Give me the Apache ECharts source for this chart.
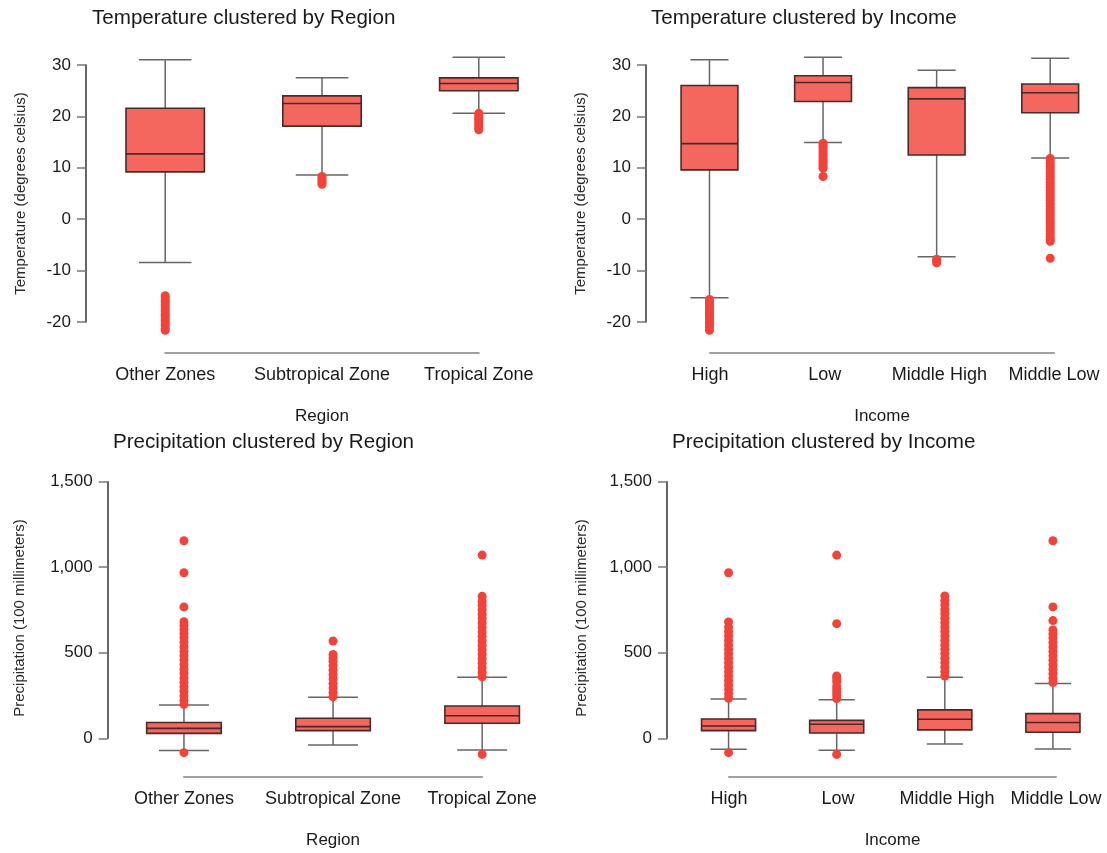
<!DOCTYPE html>
<html>
<head>
<meta charset="utf-8">
<script src="https://cdn.jsdelivr.net/npm/echarts@6/dist/echarts.min.js"></script>
<style>
html,body{margin:0;padding:0;background:#fff;}
#chart{width:1107px;height:853px;}
</style>
</head>
<body>
<div id="chart"></div>
<script>
// ---------------- DATA ----------------
const regionCats = ['Other Zones', 'Subtropical Zone', 'Tropical Zone'];
const incomeCats = ['High', 'Low', 'Middle High', 'Middle Low'];

const tempTicks = [-20, -10, 0, 10, 20, 30];
const precipTicks = [0, 500, 1000, 1500];

// box stats: [lower whisker, Q1, median, Q3, upper whisker]
const tempRegionBox = [
  [-8.4, 9.2, 12.7, 21.6, 31.0],
  [8.6, 18.1, 22.5, 24.0, 27.5],
  [20.6, 25.0, 26.4, 27.5, 31.5]
];
const tempRegionOutOther = [-14.9, -15.3, -15.8, -16.2, -16.7, -17.1, -17.6, -18.0, -18.5, -18.9, -19.4, -19.8, -20.3, -20.7, -21.2, -21.6];
const tempRegionOutSub = [8.3, 7.9, 7.5, 7.2, 6.8];
const tempRegionOutTrop = [20.6, 20.2, 19.8, 19.4, 19.0, 18.6, 18.2, 17.8, 17.4];

const tempIncomeBox = [
  [-15.3, 9.6, 14.7, 26.0, 31.0],
  [14.9, 22.9, 26.6, 27.9, 31.5],
  [-7.3, 12.5, 23.4, 25.6, 29.0],
  [11.9, 20.7, 24.6, 26.3, 31.3]
];
const tempIncomeOutHigh = [-15.6, -16.0, -16.5, -16.9, -17.4, -17.8, -18.3, -18.7, -19.2, -19.6, -20.1, -20.5, -21.0, -21.6];
const tempIncomeOutLow = [14.8, 14.4, 14.0, 13.5, 13.1, 12.7, 12.3, 11.8, 11.4, 11.0, 10.6, 10.2, 9.9, 8.3];
const tempIncomeOutMidHigh = [-7.8, -8.1, -8.5];
const tempIncomeOutMidLow = [11.8, 11.3, 10.8, 10.3, 9.8, 9.3, 8.8, 8.3, 7.8, 7.2, 6.7, 6.2, 5.7, 5.2, 4.7, 4.2, 3.7, 3.1, 2.6, 2.1, 1.6, 1.1, 0.6, 0.1, -0.4, -0.9, -1.4, -1.9, -2.4, -2.9, -3.4, -3.9, -4.3, -7.6];

const precipRegionBox = [
  [-72, 29, 58, 92, 195],
  [-39, 45, 68, 117, 240],
  [-68, 88, 132, 189, 357]
];
const precipRegionOutOther = [-84, 198, 222, 248, 275, 301, 327, 352, 379, 404, 431, 457, 483, 508, 534, 561, 588, 612, 636, 660, 682, 768, 968, 1155];
const precipRegionOutSub = [243, 268, 294, 320, 347, 372, 398, 425, 451, 470, 490, 569];
const precipRegionOutTrop = [-94, 360, 386, 412, 438, 465, 491, 517, 543, 570, 596, 622, 648, 674, 700, 725, 752, 778, 800, 830, 1071];

const precipIncomeBox = [
  [-64, 45, 72, 113, 230],
  [-70, 31, 82, 105, 226],
  [-33, 49, 111, 166, 357],
  [-62, 35, 92, 144, 321]
];
const precipIncomeOutHigh = [-84, 234, 260, 286, 312, 338, 364, 390, 416, 442, 468, 494, 520, 546, 572, 598, 624, 650, 680, 968];
const precipIncomeOutLow = [-94, 232, 252, 270, 288, 305, 330, 348, 364, 670, 1071];
const precipIncomeOutMidHigh = [364, 390, 416, 442, 468, 494, 520, 546, 572, 598, 624, 650, 676, 702, 728, 752, 780, 805, 832];
const precipIncomeOutMidLow = [326, 352, 378, 404, 430, 456, 482, 508, 534, 560, 586, 610, 633, 688, 768, 1155];

// ---------------- LAYOUT ----------------
const FONT = '"Liberation Sans", Arial, sans-serif';
const panels = [
  { title: 'Temperature clustered by Region', titleX: 92, titleY: 8,
    cats: regionCats, box: tempRegionBox,
    out: [tempRegionOutOther, tempRegionOutSub, tempRegionOutTrop],
    ticks: tempTicks, xName: 'Region', yName: 'Temperature (degrees celsius)',
    axisX: 86, bandStart: 86.8, band: 156.8, top: 65, plotH: 257, lineY: 353, yGap: 58, yShift: 0 },
  { title: 'Temperature clustered by Income', titleX: 651, titleY: 8,
    cats: incomeCats, box: tempIncomeBox,
    out: [tempIncomeOutHigh, tempIncomeOutLow, tempIncomeOutMidHigh, tempIncomeOutMidLow],
    ticks: tempTicks, xName: 'Income', yName: 'Temperature (degrees celsius)',
    axisX: 646, bandStart: 652.7, band: 114.67, top: 65, plotH: 257, lineY: 353, yGap: 58, yShift: 0 },
  { title: 'Precipitation clustered by Region', titleX: 113, titleY: 432,
    cats: regionCats, box: precipRegionBox,
    out: [precipRegionOutOther, precipRegionOutSub, precipRegionOutTrop],
    ticks: precipTicks, xName: 'Region', yName: 'Precipitation (100 millimeters)',
    axisX: 107.7, bandStart: 109.4, band: 149.1, top: 481.7, plotH: 256.6, lineY: 777, yGap: 80, yShift: 16 },
  { title: 'Precipitation clustered by Income', titleX: 672, titleY: 432,
    cats: incomeCats, box: precipIncomeBox,
    out: [precipIncomeOutHigh, precipIncomeOutLow, precipIncomeOutMidHigh, precipIncomeOutMidLow],
    ticks: precipTicks, xName: 'Income', yName: 'Precipitation (100 millimeters)',
    axisX: 667, bandStart: 674.5, band: 109, top: 481.7, plotH: 256.6, lineY: 777, yGap: 78, yShift: 16 }
];

function renderBox(params, api) {
  const x = api.value(0);
  const lo = api.coord([x, api.value(1)]);
  const q1 = api.coord([x, api.value(2)]);
  const md = api.coord([x, api.value(3)]);
  const q3 = api.coord([x, api.value(4)]);
  const hi = api.coord([x, api.value(5)]);
  const band = api.size([1, 0])[0];
  const bw = band * 0.5, cw = band * 0.335;
  const cx = lo[0];
  const wStyle = { stroke: '#666666', lineWidth: 1.5 };
  const bStroke = '#4a2a28';
  return {
    type: 'group',
    children: [
      { type: 'line', shape: { x1: cx, y1: hi[1], x2: cx, y2: q3[1] }, style: wStyle },
      { type: 'line', shape: { x1: cx, y1: q1[1], x2: cx, y2: lo[1] }, style: wStyle },
      { type: 'line', shape: { x1: cx - cw / 2, y1: hi[1], x2: cx + cw / 2, y2: hi[1] }, style: wStyle },
      { type: 'line', shape: { x1: cx - cw / 2, y1: lo[1], x2: cx + cw / 2, y2: lo[1] }, style: wStyle },
      { type: 'rect', shape: { x: cx - bw / 2, y: q3[1], width: bw, height: q1[1] - q3[1] },
        style: { fill: '#f4675f', stroke: bStroke, lineWidth: 1.6 } },
      { type: 'line', shape: { x1: cx - bw / 2, y1: md[1], x2: cx + bw / 2, y2: md[1] },
        style: { stroke: bStroke, lineWidth: 1.6 } }
    ]
  };
}

const option = {
  backgroundColor: '#ffffff',
  animation: false,
  textStyle: { fontFamily: FONT },
  title: [], grid: [], xAxis: [], yAxis: [], series: []
};

panels.forEach((p, i) => {
  const n = p.cats.length;
  const gMain = 2 * i, gLab = 2 * i + 1;
  option.title.push({
    text: p.title, left: p.titleX, top: p.titleY, padding: 0,
    textStyle: { fontFamily: FONT, fontSize: 20.6, fontWeight: 'normal', color: '#1a1a1a' }
  });
  option.grid.push({ left: p.bandStart, top: p.top, width: p.band * n, height: p.plotH, containLabel: false });
  option.grid.push({ left: p.bandStart + p.band / 2, top: p.lineY - 10, width: p.band * (n - 1), height: 10, containLabel: false });

  option.xAxis.push({
    type: 'category', gridIndex: gMain, data: p.cats, show: false, boundaryGap: true
  });
  option.xAxis.push({
    type: 'category', gridIndex: gLab, data: p.cats, boundaryGap: false, position: 'bottom',
    axisLine: { show: true, lineStyle: { color: '#a0a0a0', width: 2 } },
    axisTick: { show: false },
    axisLabel: { interval: 0, margin: 13, fontSize: 18, color: '#1a1a1a', fontFamily: FONT },
    name: p.xName, nameLocation: 'middle', nameGap: 55,
    nameTextStyle: { fontSize: 17, color: '#1a1a1a', fontFamily: FONT },
    splitLine: { show: false }
  });

  const tMin = p.ticks[0], tMax = p.ticks[p.ticks.length - 1];
  const tInt = p.ticks[1] - p.ticks[0];
  option.yAxis.push({
    type: 'value', gridIndex: gMain, min: tMin, max: tMax, interval: tInt,
    offset: p.bandStart - p.axisX,
    axisLine: { show: true, lineStyle: { color: '#333333', width: 1.5 } },
    axisTick: { show: true, length: 9, lineStyle: { color: '#777777', width: 1.5 } },
    axisLabel: { margin: 15, fontSize: 17, color: '#1a1a1a', fontFamily: FONT,
      formatter: v => Number(v).toLocaleString('en-US') },
    splitLine: { show: false },
    name: p.yName, nameLocation: 'middle', nameGap: p.yGap, nameRotate: 90,
    nameTextStyle: { fontSize: 15, color: '#2a2a2a', fontFamily: FONT,
      padding: [0, p.yShift, 0, 0] }
  });
  option.yAxis.push({ type: 'value', gridIndex: gLab, show: false });

  option.series.push({
    type: 'custom', xAxisIndex: gMain, yAxisIndex: gMain,
    renderItem: renderBox,
    encode: { x: 0, y: [1, 2, 3, 4, 5] },
    data: p.box.map((b, k) => [k].concat(b)),
    z: 2
  });
  const pts = [];
  p.out.forEach((arr, k) => arr.forEach(v => pts.push([k, v])));
  option.series.push({
    type: 'scatter', xAxisIndex: gMain, yAxisIndex: gMain,
    data: pts, symbol: 'circle', symbolSize: 9, clip: false,
    itemStyle: { color: '#f2433a', opacity: 1 },
    z: 3
  });
});

const chart = echarts.init(document.getElementById('chart'), null, { renderer: 'canvas' });
chart.setOption(option);
</script>
</body>
</html>
